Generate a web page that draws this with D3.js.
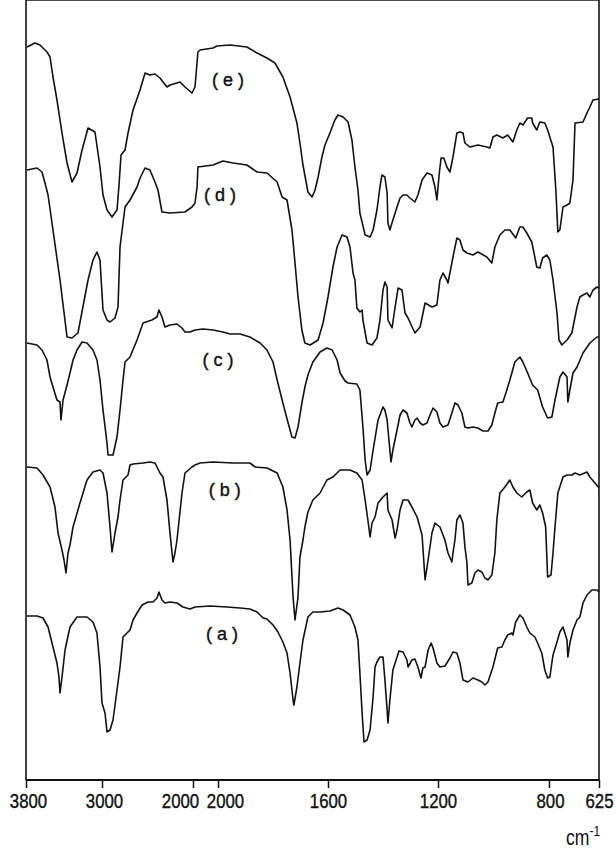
<!DOCTYPE html>
<html>
<head>
<meta charset="utf-8">
<script src="https://cdn.jsdelivr.net/npm/d3@7"></script>
<style>
  body { margin: 0; background: #fff; }
  svg { display: block; }
</style>
</head>
<body>
<div class="content"></div>
<script>
// tick labels, two chart scales (scale change at 2000 cm-1)
var ticksHi = [3800, 3000, 2000];
var ticksLo = [2000, 1600, 1200, 800, 625];

// spectra: [wavenumber cm-1, transmittance (arbitrary, stacked)]
// *Hi = 3800-2000 part of the chart, *Lo = 2000-625 part
var eHi = [[3790,733],[3705,737],[3653,735],[3579,728],[3547,723],[3516,703],[3474,680],[3421,647],[3368,617],[3316,598],[3263,607],[3210,630],[3147,652],[3074,648],[3021,613],[2989,585],[2945,570],[2890,563],[2835,570],[2813,595],[2791,625],[2747,630],[2714,647],[2659,670],[2582,690],[2527,707],[2473,705],[2418,706],[2363,702],[2286,693],[2253,695],[2143,698],[2088,693],[2011,687],[1978,693]];
var eLo = [[2073,728],[2065,730],[2018,732],[2004,734],[1956,735],[1895,733],[1858,727],[1822,722],[1793,717],[1764,703],[1738,683],[1713,657],[1702,637],[1691,615],[1673,588],[1658,583],[1647,590],[1636,603],[1622,623],[1611,635],[1593,647],[1575,660],[1564,665],[1545,663],[1527,658],[1513,640],[1502,613],[1491,590],[1484,567],[1465,545],[1447,543],[1436,550],[1422,570],[1411,593],[1404,605],[1393,603],[1385,587],[1382,557],[1375,550],[1364,560],[1349,573],[1338,582],[1327,585],[1313,585],[1302,582],[1284,578],[1273,585],[1258,600],[1240,607],[1222,605],[1211,593],[1204,580],[1196,605],[1189,622],[1179,622],[1168,613],[1157,608],[1146,623],[1132,647],[1121,648],[1110,647],[1103,637],[1085,633],[1056,635],[1024,633],[1013,632],[1002,643],[988,645],[966,642],[949,645],[930,638],[916,650],[905,657],[894,655],[877,662],[862,662],[859,657],[844,650],[833,658],[815,657],[805,650],[786,633],[776,590],[769,548],[762,550],[751,573],[737,575],[727,577],[716,600],[709,657],[681,658],[667,667],[657,673],[646,680],[625,681]];

var dHi = [[3790,610],[3684,612],[3632,608],[3600,597],[3568,585],[3516,550],[3442,500],[3368,443],[3316,442],[3253,447],[3147,500],[3095,520],[3053,528],[3021,520],[2989,470],[2945,460],[2912,458],[2857,462],[2824,473],[2802,533],[2747,573],[2692,580],[2615,593],[2582,602],[2527,612],[2473,610],[2418,598],[2385,590],[2341,568],[2253,567],[2088,568],[2011,573],[1978,577]];
var dLo = [[2076,593],[2073,613],[2018,615],[1982,619],[1945,617],[1895,615],[1858,608],[1822,607],[1785,598],[1767,583],[1749,580],[1731,550],[1720,517],[1709,483],[1695,450],[1684,437],[1665,435],[1636,440],[1618,457],[1600,483],[1582,513],[1567,533],[1549,545],[1531,543],[1520,533],[1509,507],[1502,500],[1495,472],[1484,468],[1476,470],[1473,460],[1458,437],[1440,435],[1422,442],[1411,460],[1400,490],[1393,498],[1385,493],[1382,460],[1367,452],[1356,473],[1345,492],[1331,490],[1320,467],[1309,462],[1284,447],[1265,453],[1247,477],[1222,473],[1204,475],[1193,500],[1182,507],[1168,500],[1164,497],[1146,523],[1132,542],[1121,540],[1110,530],[1096,527],[1074,525],[1056,528],[1024,523],[1006,517],[995,533],[977,545],[959,550],[941,550],[920,542],[905,553],[894,553],[880,547],[862,538],[844,513],[833,512],[823,522],[808,525],[797,520],[786,500],[772,467],[765,440],[755,435],[737,440],[720,447],[702,473],[692,483],[681,485],[667,487],[657,483],[646,490],[632,493],[625,492]];

var cHi = [[3790,437],[3684,435],[3632,430],[3579,420],[3547,403],[3516,393],[3474,380],[3442,378],[3432,360],[3410,380],[3368,395],[3337,407],[3305,420],[3263,430],[3210,438],[3158,437],[3095,430],[3053,420],[3021,400],[2989,370],[2945,337],[2934,325],[2879,325],[2835,343],[2802,370],[2769,400],[2747,418],[2692,423],[2615,440],[2549,457],[2451,460],[2396,463],[2374,470],[2341,463],[2308,453],[2253,455],[2176,456],[2121,452],[2088,448],[2033,448],[1978,450]];
var cLo = [[2055,451],[2018,450],[1982,448],[1956,446],[1920,446],[1884,443],[1847,437],[1822,430],[1800,418],[1785,400],[1764,377],[1745,357],[1731,343],[1720,342],[1709,353],[1695,377],[1684,393],[1673,405],[1655,418],[1629,428],[1604,432],[1585,430],[1567,420],[1556,407],[1538,399],[1527,397],[1495,396],[1484,390],[1473,353],[1465,320],[1458,305],[1447,310],[1436,330],[1418,360],[1400,373],[1393,370],[1385,360],[1371,318],[1364,330],[1349,350],[1338,365],[1327,370],[1313,367],[1302,357],[1295,353],[1284,360],[1276,362],[1265,357],[1255,355],[1240,357],[1229,365],[1218,372],[1204,368],[1193,357],[1182,353],[1164,355],[1150,367],[1139,377],[1128,375],[1114,367],[1103,353],[1092,352],[1074,353],[1056,352],[1038,349],[1020,349],[1006,355],[995,367],[985,377],[966,378],[952,390],[941,400],[923,418],[905,423],[894,418],[877,407],[859,395],[841,390],[823,373],[805,362],[790,363],[779,380],[762,403],[751,408],[737,403],[734,378],[727,390],[716,407],[702,413],[681,427],[657,437],[632,443],[625,443]];

var bHi = [[3790,313],[3684,312],[3621,305],[3547,293],[3495,273],[3463,247],[3421,230],[3400,220],[3379,207],[3358,227],[3337,235],[3305,253],[3232,277],[3158,300],[3095,308],[3021,310],[2989,307],[2945,287],[2912,253],[2890,228],[2857,247],[2824,263],[2802,280],[2769,300],[2714,305],[2692,315],[2659,316],[2549,317],[2473,318],[2418,317],[2363,307],[2330,303],[2286,280],[2253,247],[2220,218],[2198,227],[2176,240],[2121,287],[2088,307],[2011,313],[1978,315]];
var bLo = [[2065,317],[2018,318],[1945,317],[1884,317],[1865,313],[1822,312],[1785,307],[1764,293],[1749,270],[1738,240],[1727,183],[1720,160],[1709,183],[1702,223],[1691,240],[1684,253],[1673,268],[1655,280],[1629,287],[1604,300],[1582,303],[1556,310],[1520,310],[1495,307],[1476,300],[1465,280],[1455,260],[1447,243],[1440,257],[1429,263],[1418,277],[1400,283],[1385,287],[1382,270],[1367,260],[1356,242],[1349,250],[1338,270],[1327,280],[1309,280],[1295,273],[1276,263],[1258,245],[1247,200],[1236,220],[1222,247],[1211,257],[1193,253],[1175,240],[1164,227],[1150,218],[1146,227],[1139,240],[1132,260],[1121,265],[1110,257],[1103,233],[1096,218],[1092,195],[1078,197],[1067,207],[1056,210],[1042,208],[1031,202],[1020,200],[1006,205],[995,227],[988,260],[977,287],[959,293],[941,300],[930,293],[916,287],[898,283],[880,288],[869,290],[859,277],[844,270],[833,275],[823,267],[812,253],[805,203],[793,205],[786,227],[779,253],[769,287],[751,303],[737,305],[720,305],[709,307],[692,305],[667,308],[657,303],[639,297],[625,292]];

var aHi = [[3790,164],[3684,164],[3621,162],[3568,153],[3516,133],[3474,117],[3453,103],[3442,87],[3421,103],[3389,130],[3337,153],[3263,163],[3158,163],[3095,158],[3053,147],[3021,113],[3000,77],[2967,67],[2945,48],[2912,50],[2879,60],[2835,90],[2802,113],[2769,143],[2725,147],[2692,150],[2659,160],[2615,167],[2560,175],[2495,178],[2440,178],[2396,182],[2374,188],[2341,180],[2308,177],[2253,178],[2176,177],[2110,173],[2033,171],[1978,173]];
var aLo = [[2029,174],[1967,173],[1920,172],[1884,171],[1858,168],[1836,162],[1822,161],[1800,155],[1782,148],[1764,138],[1749,127],[1738,107],[1727,80],[1724,75],[1713,93],[1702,117],[1691,140],[1673,163],[1655,168],[1629,168],[1593,169],[1564,172],[1545,170],[1520,165],[1502,153],[1491,140],[1484,107],[1476,67],[1469,38],[1458,40],[1447,50],[1436,83],[1429,113],[1422,118],[1411,123],[1400,123],[1393,100],[1385,70],[1382,57],[1375,80],[1364,110],[1349,123],[1342,129],[1327,128],[1313,120],[1309,113],[1295,120],[1284,121],[1273,113],[1262,102],[1255,112],[1247,113],[1236,130],[1225,137],[1218,132],[1204,117],[1193,113],[1175,114],[1157,122],[1146,128],[1132,127],[1121,117],[1110,100],[1092,98],[1074,102],[1056,100],[1042,98],[1031,95],[1020,98],[1002,113],[985,132],[970,133],[959,140],[949,145],[934,147],[930,145],[920,158],[905,165],[894,162],[880,153],[869,147],[851,143],[841,137],[826,127],[815,110],[805,102],[797,103],[786,125],[772,138],[762,148],[751,153],[737,140],[734,123],[727,137],[716,150],[702,160],[692,163],[681,177],[667,185],[650,190],[632,190],[625,188]];

var traceNames = ["( a )", "( b )", "( c )", "( d )", "( e )"];
// where each name sits: [wavenumber on the 2000-625 scale, transmittance]
var nameAt = [[1985,146],[1975,290],[2000,420],[1993,585],[1964,700]];

var width = 616, height = 852;
var svg = d3.select(".content").append("svg")
  .attr("width", width)
  .attr("height", height);

var xHi = d3.scaleLinear().domain([3800, 3000, 2000]).range([26, 102, 193]);
var xLo = d3.scaleLinear().domain([2000, 1600, 1200, 800, 625]).range([218, 328, 438, 549, 599]);
var y = d3.scaleLinear().domain([0, 770]).range([780, 10]);

var line = d3.line();
function points(hi, lo) {
  return hi.map(function(d) { return [xHi(d[0]), y(d[1])]; })
    .concat(lo.map(function(d) { return [xLo(d[0]), y(d[1])]; }));
}

var traces = [[aHi, aLo], [bHi, bLo], [cHi, cLo], [dHi, dLo], [eHi, eLo]];

svg.selectAll("path.trace")
  .data(traces)
  .enter().append("path")
    .attr("class", "trace")
    .attr("d", function(d) { return line(points(d[0], d[1])); })
    .attr("fill", "none")
    .attr("stroke", "#111")
    .attr("stroke-width", 1.6)
    .attr("stroke-linejoin", "round");

svg.selectAll("text.name")
  .data(traceNames)
  .enter().append("text")
    .attr("class", "name")
    .attr("x", function(d, i) { return xLo(nameAt[i][0]); })
    .attr("y", function(d, i) { return y(nameAt[i][1]); })
    .attr("dy", "0.35em")
    .attr("text-anchor", "middle")
    .style("font-family", "'Liberation Sans', Arial, sans-serif")
    .style("font-size", "18px")
    .style("white-space", "pre")
    .attr("fill", "#111")
    .attr("stroke", "#111")
    .attr("stroke-width", 0.4)
    .text(function(d) { return d; });

// frame
var left = xHi(3800), right = xLo(625), bottom = y(0), top = y(768);
var frame = svg.append("g").attr("stroke", "#111").attr("fill", "none");
frame.append("line").attr("x1", left).attr("y1", top).attr("x2", left).attr("y2", bottom).attr("stroke-width", 1.6);
frame.append("line").attr("x1", left).attr("y1", top).attr("x2", right).attr("y2", top + 5).attr("stroke-width", 1.6);
frame.append("line").attr("x1", right).attr("y1", top + 5).attr("x2", right).attr("y2", bottom).attr("stroke-width", 1.6);
frame.append("line").attr("x1", left).attr("y1", bottom).attr("x2", right).attr("y2", bottom).attr("stroke-width", 2);

// axes
function styleAxis(g, shifts) {
  g.select(".domain").remove();
  g.selectAll(".tick line").attr("stroke", "#111").attr("stroke-width", 1.5);
  g.selectAll(".tick text")
    .attr("y", 28)
    .attr("dy", null)
    .attr("fill", "#111")
    .attr("stroke", "#111")
    .attr("stroke-width", 0.4)
    .style("font-family", "'Liberation Sans', Arial, sans-serif")
    .style("font-size", "21px")
    .attr("transform", function(d, i) { return "translate(" + (shifts[i] || 0) + ",0) scale(0.8,1)"; });
}

svg.append("g")
  .attr("transform", "translate(0," + bottom + ")")
  .call(d3.axisBottom(xHi).tickValues(ticksHi).tickSize(8).tickFormat(d3.format("d")))
  .call(styleAxis, [2, 2, -13]);

svg.append("g")
  .attr("transform", "translate(0," + bottom + ")")
  .call(d3.axisBottom(xLo).tickValues(ticksLo).tickSize(8).tickFormat(d3.format("d")))
  .call(styleAxis, [7, 0, 0, 1, 0]);

var unit = svg.append("text")
  .attr("transform", "translate(566,845) scale(0.8,1)")
  .attr("fill", "#111")
  .style("font-family", "'Liberation Sans', Arial, sans-serif")
  .style("font-size", "22px");
unit.append("tspan").text("cm");
unit.append("tspan").attr("dy", -9).style("font-size", "15px").text("-1");
</script>
</body>
</html>
